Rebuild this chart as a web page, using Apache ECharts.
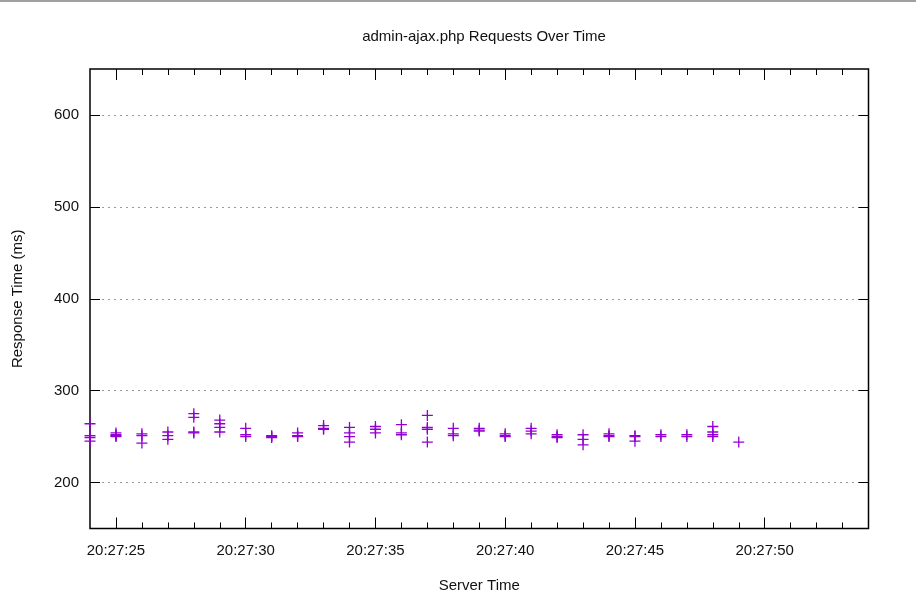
<!DOCTYPE html>
<html>
<head>
<meta charset="utf-8">
<script src="https://cdn.jsdelivr.net/npm/echarts@6/dist/echarts.min.js"></script>
<style>
html,body{margin:0;padding:0;background:#fff;}
#main{width:916px;height:612px;}
</style>
</head>
<body>
<div id="main"></div>
<script>
// seconds after 20:27:00, one group of requests per second
var seconds = [24,25,26,27,28,29,30,31,32,33,34,35,36,37,38,39,40,41,42,43,44,45,46,47,48,49];
var responseMs = [
  [264,251,249,245],
  [254,252,251,250],
  [253,251,243],
  [255,251,247],
  [275,271,255,254],
  [268,264,260,255],
  [259,252,250],
  [251,250,249],
  [254,251,250],
  [262,259,258],
  [260,254,250,244],
  [261,258,254],
  [263,254,252],
  [273,260,258,244],
  [259,253,251],
  [259,257,256],
  [253,251,250],
  [259,256,253],
  [252,250,249],
  [252,247,241],
  [253,251,250],
  [251,250,245],
  [252,250],
  [252,250],
  [261,255,252,250],
  [244]
];
var majorSeconds = [25,30,35,40,45,50];
var minorSeconds = [26,27,28,29,31,32,33,34,36,37,38,39,41,42,43,44,46,47,48,49,51,52,53];
var yTicks = [200,300,400,500,600];

var points = [];
for (var i = 0; i < seconds.length; i++) {
  for (var j = 0; j < responseMs[i].length; j++) {
    points.push([seconds[i], responseMs[i][j]]);
  }
}

function pad(n){ return (n < 10 ? '0' : '') + n; }
var font = 'Liberation Sans, Arial, sans-serif';

function xAx(pos, values, len, labels) {
  return {
    type: 'value', position: pos, min: 24, max: 54,
    name: labels ? 'Server Time' : '',
    nameLocation: 'middle', nameGap: 50,
    nameTextStyle: {color: '#111', fontSize: 15, fontFamily: font},
    axisLine: {show: false},
    axisTick: {show: true, inside: true, length: len, customValues: values,
               lineStyle: {color: '#000', width: 1}},
    axisLabel: {show: labels, customValues: values, margin: 15, color: '#111',
                fontSize: 15, fontFamily: font,
                formatter: function(v){ return '20:27:' + pad(v); }},
    splitLine: {show: false}
  };
}
function yAx(pos, labels) {
  return {
    type: 'value', position: pos, min: 150, max: 650,
    name: labels ? 'Response Time (ms)' : '',
    nameLocation: 'middle', nameGap: 65,
    nameTextStyle: {color: '#111', fontSize: 15, fontFamily: font},
    axisLine: {show: false},
    axisTick: {show: true, inside: true, length: 10, customValues: yTicks,
               lineStyle: {color: '#000', width: 1}},
    axisLabel: {show: labels, customValues: yTicks, margin: 11, color: '#111',
                fontSize: 15, fontFamily: font},
    splitLine: {show: labels, lineStyle: {color: '#999', type: [2, 4], width: 1}}
  };
}

var option = {
  backgroundColor: '#fff',
  animation: false,
  title: {
    text: 'admin-ajax.php Requests Over Time',
    left: 479, top: 24, textAlign: 'center',
    textStyle: {color: '#111', fontSize: 15, fontWeight: 'normal', fontFamily: font}
  },
  graphic: [{type: 'rect', shape: {x: 0, y: 0, width: 916, height: 2}, style: {fill: '#a0a0a0'}}],
  grid: {left: 90, right: 47.5, top: 69, bottom: 83.5, show: true,
         borderColor: '#000', borderWidth: 1.5, backgroundColor: 'transparent'},
  xAxis: [
    xAx('bottom', majorSeconds, 11, true),
    xAx('bottom', minorSeconds, 6, false),
    xAx('top', majorSeconds, 11, false),
    xAx('top', minorSeconds, 6, false)
  ],
  yAxis: [yAx('left', true), yAx('right', false)],
  series: [{
    type: 'scatter',
    xAxisIndex: 0, yAxisIndex: 0,
    symbol: 'path://M0,5.5H11M5.5,0V11',
    symbolSize: 11,
    clip: false,
    itemStyle: {color: 'rgba(0,0,0,0)', borderColor: '#9400d3', borderWidth: 1.3, opacity: 1},
    data: points
  }]
};

var myChart = echarts.init(document.getElementById('main'));
myChart.setOption(option);
</script>
</body>
</html>
